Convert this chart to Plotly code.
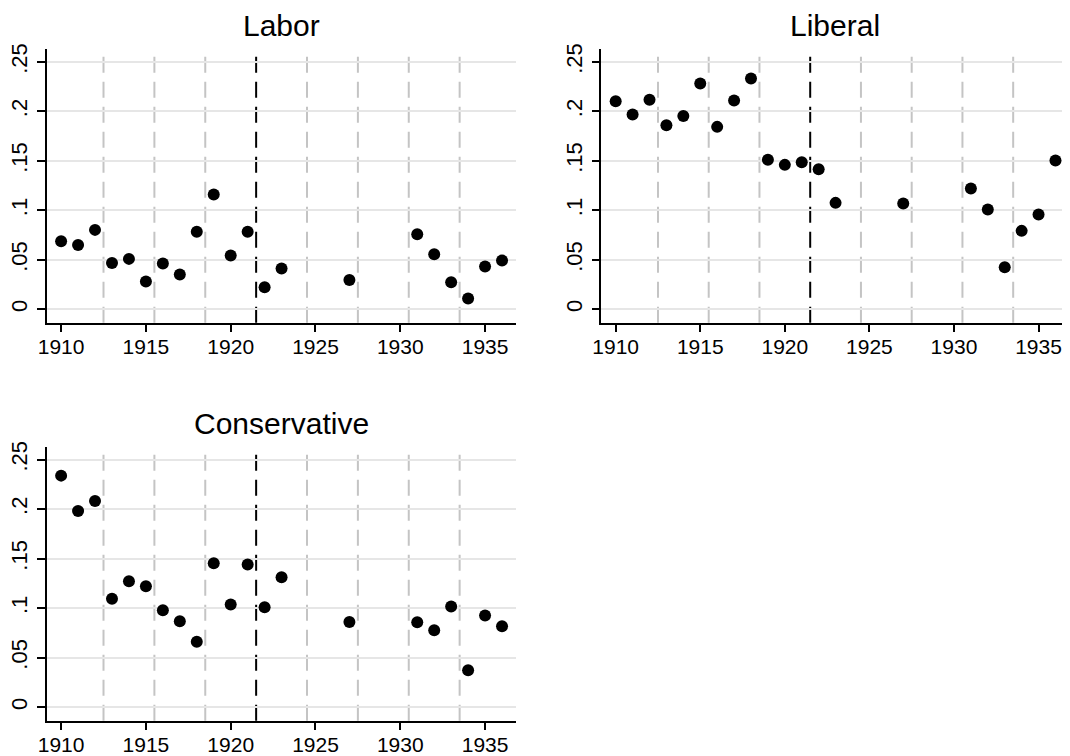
import plotly.graph_objects as go

# ---- data ----
years = [1910, 1911, 1912, 1913, 1914, 1915, 1916, 1917, 1918, 1919, 1920,
         1921, 1922, 1923, 1927, 1931, 1932, 1933, 1934, 1935, 1936]
labor = [0.0687, 0.0650, 0.0802, 0.0468, 0.0509, 0.0280, 0.0462, 0.0350,
         0.0782, 0.1159, 0.0542, 0.0782, 0.0222, 0.0411, 0.0296, 0.0758,
         0.0556, 0.0273, 0.0108, 0.0431, 0.0492]
liberal = [0.2102, 0.1968, 0.2116, 0.1860, 0.1954, 0.2281, 0.1843, 0.2109,
           0.2332, 0.1510, 0.1459, 0.1486, 0.1415, 0.1075, 0.1068, 0.1220,
           0.1007, 0.0425, 0.0792, 0.0957, 0.1503]
conservative = [0.2338, 0.1982, 0.2083, 0.1094, 0.1272, 0.1221, 0.0979,
                0.0868, 0.0660, 0.1454, 0.1036, 0.1440, 0.1009, 0.1312,
                0.0861, 0.0858, 0.0777, 0.1016, 0.0373, 0.0925, 0.0818]
panel_titles = ["Labor", "Liberal", "Conservative"]
election_breaks = [1912.5, 1915.5, 1918.5, 1924.5, 1927.5, 1930.5, 1933.5]
reform_break = 1921.5
x_ticks = [1910, 1915, 1920, 1925, 1930, 1935]
y_ticks = [0, 0.05, 0.10, 0.15, 0.20, 0.25]
y_tick_labels = ["0", ".05", ".1", ".15", ".2", ".25"]

W, H = 1070, 756
OFF = 8  # page body margin offset
FONT = "Liberation Sans, Arial, sans-serif"

# panel geometry in target-screen pixels: (left, right, top, bottom)
panels = [(46.7, 515.6, 49.0, 322.7),
          (601.3, 1069.0, 49.0, 322.7),
          (46.7, 515.6, 446.7, 720.7)]
series = [labor, liberal, conservative]

fig = go.Figure()
layout = dict(width=W, height=H, autosize=False,
              margin=dict(l=0, r=0, t=0, b=0, autoexpand=False),
              paper_bgcolor="white", plot_bgcolor="white",
              showlegend=False, font=dict(family=FONT, color="black"))
shapes = []
annotations = []

for i, (geom, vals, title) in enumerate(zip(panels, series, panel_titles)):
    l, r, t, b = [g - OFF for g in geom]
    sfx = "" if i == 0 else str(i + 1)
    xa, ya = "x" + sfx, "y" + sfx
    fig.add_trace(go.Scatter(x=years, y=vals, mode="markers",
                             marker=dict(color="black", size=12, line=dict(width=0)),
                             xaxis=xa, yaxis=ya, hoverinfo="x+y"))
    layout["xaxis" + sfx] = dict(
        domain=[l / W, r / W], anchor=ya, range=[1909.15, 1936.8],
        tickvals=x_ticks, ticks="outside", ticklen=8, tickwidth=1.5,
        tickcolor="black", showline=True, linecolor="black", linewidth=1.5,
        showgrid=False, zeroline=False, ticklabelstandoff=-4,
        tickfont=dict(family=FONT, size=21, color="black"))
    layout["yaxis" + sfx] = dict(
        domain=[1 - b / H, 1 - t / H], anchor=xa, range=[-0.0136, 0.263],
        tickvals=y_ticks, ticktext=y_tick_labels, tickangle=-90,
        ticks="outside", ticklen=8, tickwidth=1.5, tickcolor="black",
        showline=True, linecolor="black", linewidth=1.5, ticklabelstandoff=1,
        showgrid=True, gridcolor="#e6e6e6", gridwidth=2, zeroline=False,
        tickfont=dict(family=FONT, size=22, color="black"))
    for xb in election_breaks:
        shapes.append(dict(type="line", xref=xa, yref="paper",
                           x0=xb, x1=xb, y0=1 - b / H, y1=1 - t / H, layer="below",
                           line=dict(color="#c4c4c4", width=2, dash="16px,9px")))
    shapes.append(dict(type="line", xref=xa, yref="paper",
                       x0=reform_break, x1=reform_break, y0=1 - b / H, y1=1 - t / H,
                       layer="below",
                       line=dict(color="black", width=2, dash="16px,9px")))
    annotations.append(dict(text=title, xref="paper", yref="paper",
                            x=(l + r) / 2 / W, y=1 - (t - 23.5) / H, xanchor="center",
                            yanchor="middle", showarrow=False,
                            font=dict(family=FONT, size=30, color="black")))

layout["shapes"] = shapes
layout["annotations"] = annotations
fig.update_layout(**layout)
fig.write_html("out.html")
